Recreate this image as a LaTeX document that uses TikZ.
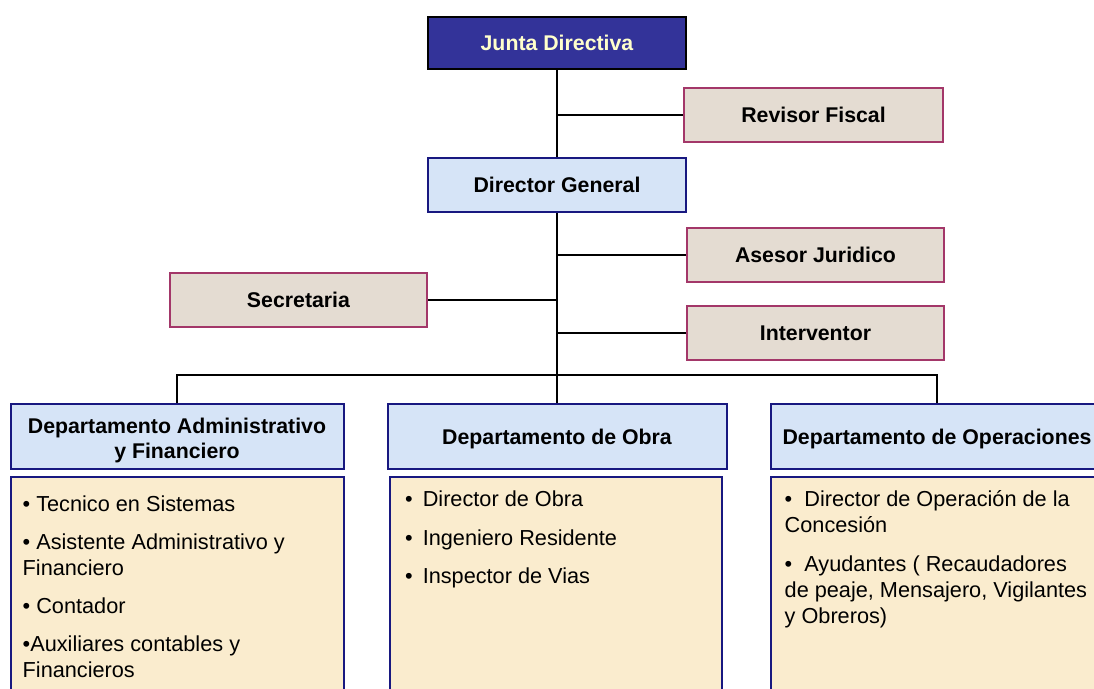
\documentclass[tikz,border=0pt]{standalone}
\usepackage{fontspec}
\setmainfont{Liberation Sans}
\definecolor{juntablue}{RGB}{51,51,153}
\definecolor{juntatext}{RGB}{255,255,204}
\definecolor{staffbeige}{RGB}{228,220,210}
\definecolor{staffborder}{RGB}{163,55,105}
\definecolor{lightblue}{RGB}{214,228,247}
\definecolor{navyline}{RGB}{24,24,128}
\definecolor{cream}{RGB}{250,236,206}
\tikzset{
  box/.style={draw, line width=2pt, inner sep=0pt, align=center,
    font=\fontsize{21.3}{25}\selectfont\bfseries},
  topbox/.style={box, draw=black, fill=juntablue, text=juntatext,
    minimum width=258pt, minimum height=52pt},
  staffbox/.style={box, draw=staffborder, fill=staffbeige,
    minimum width=257pt, minimum height=54pt},
  mainbox/.style={box, draw=navyline, fill=lightblue},
  listbox/.style={draw=navyline, line width=2pt, fill=cream, inner sep=0pt},
  listtext/.style={anchor=north west, inner sep=0pt, align=left,
    font=\fontsize{21.7}{26}\selectfont},
  link/.style={draw=black, line width=1.5pt}
}
\begin{document}
\begin{tikzpicture}[x=1pt,y=-1pt]
\useasboundingbox (0,0) rectangle (1094,688);
\clip (0,0) rectangle (1094,688);
\fill[white] (0,0) rectangle (1094,688);

\coordinate (hub) at (557,375);

% upper boxes
\node[topbox] (junta) at (557,42.5) {Junta Directiva};
\node[staffbox, minimum width=259pt] (revisor) at (813.5,115) {Revisor Fiscal};
\node[mainbox, minimum width=258pt, minimum height=54pt] (dirgen) at (557,185) {Director General};
\node[staffbox] (asesor) at (815.5,255) {Asesor Juridico};
\node[staffbox] (secretaria) at (298.5,300) {Secretaria};
\node[staffbox] (interventor) at (815.5,333) {Interventor};

\draw[link] (junta.south) -- (dirgen.north);
\draw[link] (revisor.west) -- (revisor.west -| junta.south);
\draw[link] (dirgen.south) -- (hub);
\draw[link] (asesor.west) -- (asesor.west -| dirgen.south);
\draw[link] (secretaria.east) -- (secretaria.east -| dirgen.south);
\draw[link] (interventor.west) -- (interventor.west -| dirgen.south);

% departments
\node[mainbox, minimum width=333pt, minimum height=65pt] (deptA) at (177,436.5)
  {\rule{0pt}{23pt}Departamento Administrativo\\y Financiero};
\node[mainbox, minimum width=339pt, minimum height=65pt] (deptO) at (557,436.5)
  {\rule{0pt}{20pt}Departamento de Obra};
\node[mainbox, minimum width=332pt, minimum height=65pt] (deptOp) at (937,436.5)
  {\rule{0pt}{20pt}Departamento de Operaciones};

\draw[link] (deptA.north) |- (hub) -| (deptOp.north);
\draw[link] (hub) -- (deptO.north);

% staff lists
\node[listbox, minimum width=333pt, minimum height=223pt] (listA) at (177,588.5) {};
\node[listbox, minimum width=332pt, minimum height=223pt] (listO) at (556,588.5) {};
\node[listbox, minimum width=332pt, minimum height=223pt] (listOp) at (937,588.5) {};

\node[listtext] (textA) at (22.5,496)
  {• Tecnico en Sistemas\\[12pt]• Asistente Administrativo y\\Financiero\\[12pt]• Contador\\[12pt]•Auxiliares contables y\\Financieros};
\node[listtext] (textO) at (405,491)
  {•\hspace{10pt}Director de Obra\\[12.5pt]•\hspace{10pt}Ingeniero Residente\\[12.5pt]•\hspace{10pt}Inspector de Vias};
\node[listtext] (textOp) at (784.5,490)
  {•~~Director de Operación de la\\Concesión\\[13pt]•~~Ayudantes ( Recaudadores\\de peaje, Mensajero, Vigilantes\\y Obreros)};
\end{tikzpicture}
\end{document}
